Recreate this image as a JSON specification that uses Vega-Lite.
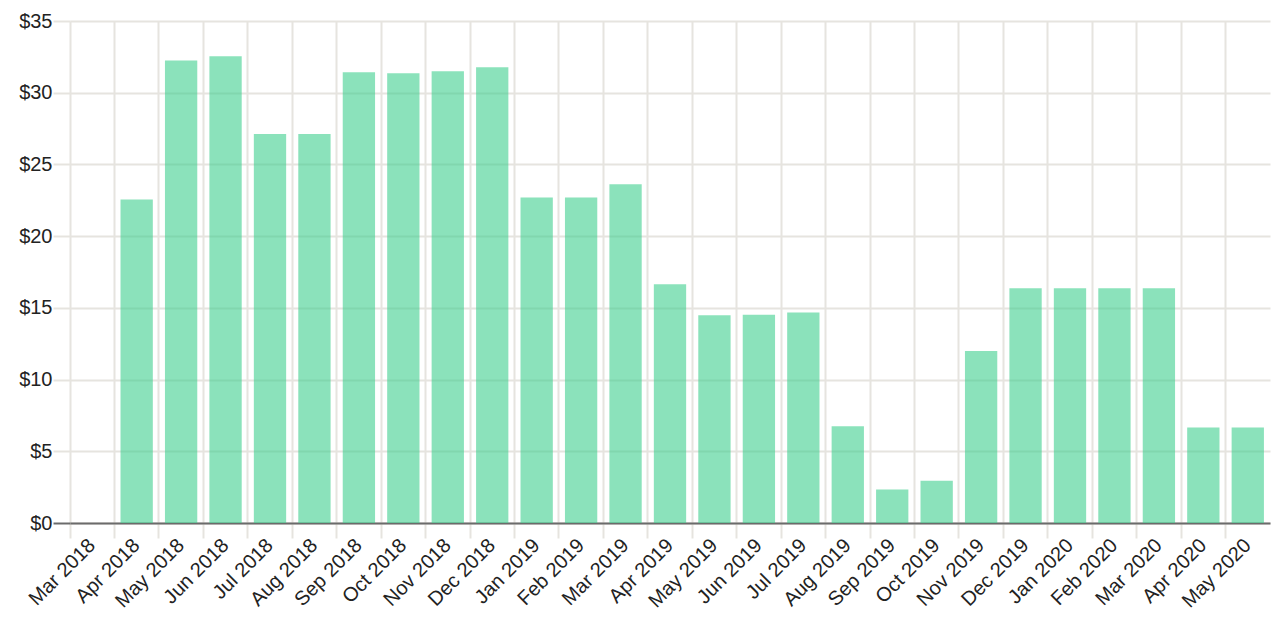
{
  "$schema": "https://vega.github.io/schema/vega-lite/v6.json",
  "width": 1200,
  "height": 502,
  "autosize": {"type": "none"},
  "padding": {"left": 70, "top": 21, "right": 10, "bottom": 103},
  "background": "#ffffff",
  "config": {
    "view": {"stroke": null},
    "font": "Liberation Sans",
    "axis": {
      "gridColor": "#e6e4df",
      "gridWidth": 2,
      "tickColor": "#e6e4df",
      "tickWidth": 2,
      "title": null
    }
  },
  "data": {
    "values": [
      {"month": "Apr 2018", "amount": 22.55},
      {"month": "May 2018", "amount": 32.24},
      {"month": "Jun 2018", "amount": 32.54},
      {"month": "Jul 2018", "amount": 27.12},
      {"month": "Aug 2018", "amount": 27.12},
      {"month": "Sep 2018", "amount": 31.42},
      {"month": "Oct 2018", "amount": 31.35},
      {"month": "Nov 2018", "amount": 31.49},
      {"month": "Dec 2018", "amount": 31.77},
      {"month": "Jan 2019", "amount": 22.7},
      {"month": "Feb 2019", "amount": 22.7},
      {"month": "Mar 2019", "amount": 23.62},
      {"month": "Apr 2019", "amount": 16.65},
      {"month": "May 2019", "amount": 14.49},
      {"month": "Jun 2019", "amount": 14.52},
      {"month": "Jul 2019", "amount": 14.68},
      {"month": "Aug 2019", "amount": 6.74},
      {"month": "Sep 2019", "amount": 2.33},
      {"month": "Oct 2019", "amount": 2.95},
      {"month": "Nov 2019", "amount": 12.0},
      {"month": "Dec 2019", "amount": 16.37},
      {"month": "Jan 2020", "amount": 16.37},
      {"month": "Feb 2020", "amount": 16.37},
      {"month": "Mar 2020", "amount": 16.37},
      {"month": "Apr 2020", "amount": 6.65},
      {"month": "May 2020", "amount": 6.65}
    ]
  },
  "mark": {"type": "bar", "color": "#3ecf8e", "opacity": 0.6, "width": {"band": 0.727}},
  "encoding": {
    "x": {
      "field": "month",
      "type": "ordinal",
      "scale": {
        "domain": ["Mar 2018", "Apr 2018", "May 2018", "Jun 2018", "Jul 2018", "Aug 2018", "Sep 2018", "Oct 2018", "Nov 2018", "Dec 2018", "Jan 2019", "Feb 2019", "Mar 2019", "Apr 2019", "May 2019", "Jun 2019", "Jul 2019", "Aug 2019", "Sep 2019", "Oct 2019", "Nov 2019", "Dec 2019", "Jan 2020", "Feb 2020", "Mar 2020", "Apr 2020", "May 2020"],
        "paddingInner": 0,
        "paddingOuter": 0
      },
      "axis": {
        "bandPosition": 0,
        "labelAngle": -45,
        "labelAlign": "right",
        "labelBaseline": "middle",
        "labelFont": "Liberation Sans",
        "labelFontSize": 20,
        "labelColor": "#222222",
        "labelOverlap": false,
        "tickSize": 15,
        "labelPadding": 4,
        "domain": true,
        "domainColor": "#6b6b6b",
        "domainWidth": 2,
        "grid": true
      }
    },
    "y": {
      "field": "amount",
      "type": "quantitative",
      "scale": {"domain": [0, 35], "nice": false},
      "axis": {
        "values": [0, 5, 10, 15, 20, 25, 30, 35],
        "format": "$,.0f",
        "labelFont": "Liberation Sans",
        "labelFontSize": 20,
        "labelColor": "#222222",
        "domain": false,
        "tickSize": 17,
        "labelPadding": 1,
        "tickColor": {"condition": {"test": "datum.value === 0", "value": "#6b6b6b"}, "value": "#e6e4df"},
        "grid": true
      }
    }
  }
}
